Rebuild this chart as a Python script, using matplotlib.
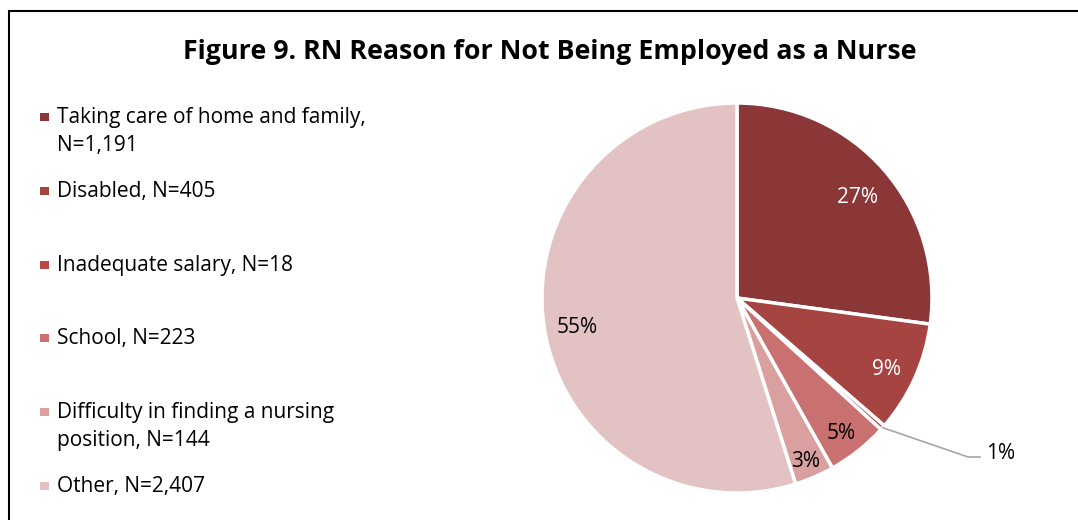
import numpy as np
import matplotlib.pyplot as plt
from matplotlib.patches import Rectangle

# Motivos de RN nao empregado como enfermeiro
categorias = ["Taking care of home and family,\nN=1,191",
              "Disabled, N=405",
              "Inadequate salary, N=18",
              "School, N=223",
              "Difficulty in finding a nursing\nposition, N=144",
              "Other, N=2,407"]
valores = [1191, 405, 18, 223, 144, 2407]
rotulos = ["27%", "9%", "1%", "5%", "3%", "55%"]
cores = ['#8B3737', '#A64442', '#B94846', '#C87170', '#D9A09F', '#E2C2C3']
cor_rotulo = ['white', 'white', 'black', 'black', 'black', 'black']

plt.rcParams['font.family'] = ['Open Sans', 'DejaVu Sans']

W, H = 1078, 520
fig = plt.figure(figsize=(W / 100, H / 100), dpi=100)

# moldura (so aparecem as bordas esquerda e superior)
fig.patches.append(Rectangle((9 / W, -0.1), 1.2, (H - 11) / H + 0.1,
                             transform=fig.transFigure, fill=False,
                             edgecolor='black', linewidth=1.5))

fig.text(550 / W, 1 - 52 / H,
         "Figure 9. RN Reason for Not Being Employed as a Nurse",
         ha='center', va='center', fontsize=19.3, fontweight='bold')

# pizza
R = 195
cx, cy = 737, 298
ax = fig.add_axes([(cx - 200) / W, (H - cy - 200) / H, 400 / W, 400 / H])
wedges, _ = ax.pie(valores, colors=cores, startangle=90, counterclock=False,
                   radius=1, wedgeprops=dict(edgecolor='white', linewidth=2.5))
lim = 200 / R
ax.set_xlim(-lim, lim)
ax.set_ylim(-lim, lim)
ax.set_aspect('equal')
ax.axis('off')

raios = [0.82, 0.84, 0, 0.86, 0.89, 0.83]
for i, w in enumerate(wedges):
	ang = np.deg2rad((w.theta1 + w.theta2) / 2)
	if valores[i] / sum(valores) < 0.01:
		# fatia pequena: rotulo fora com linha guia
		x0, y0 = np.cos(ang), np.sin(ang)
		x1, y1 = (968 - cx) / R, (cy - 457) / R
		x2 = (980 - cx) / R
		ax.plot([x0, x1, x2], [y0, y1, y1], color='#A6A6A6', lw=1.2,
				clip_on=False)
		ax.text(x2 + 0.03, y1 + 0.02, rotulos[i], ha='left', va='center',
				fontsize=15, color=cor_rotulo[i])
	else:
		r = raios[i]
		ax.text(r * np.cos(ang), r * np.sin(ang) - 0.01, rotulos[i],
				ha='center', va='center_baseline', fontsize=15,
				color=cor_rotulo[i])

# legenda
for i in range(len(categorias)):
	y = 117 + 73.8 * i
	fig.patches.append(Rectangle((40 / W, 1 - (y + 4) / H), 9 / W, 8 / H,
								 transform=fig.transFigure,
								 facecolor=cores[i], edgecolor='none'))
	fig.text(57 / W, 1 - (y - 10) / H, categorias[i], ha='left', va='top',
			 fontsize=15, linespacing=1.42)

fig.savefig('out.png', dpi=100)
